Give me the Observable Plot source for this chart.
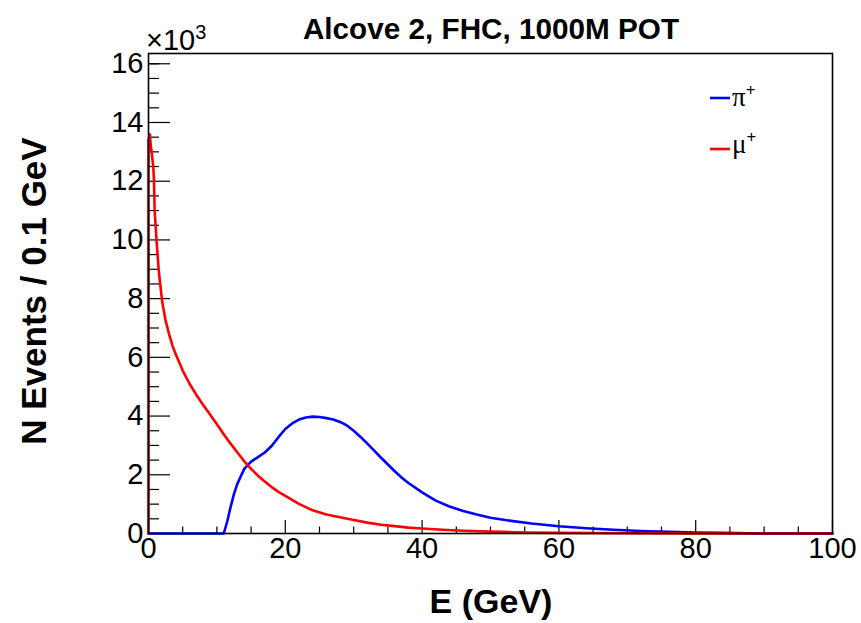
<!DOCTYPE html>
<html>
<head>
<meta charset="utf-8">
<script src="https://cdn.jsdelivr.net/npm/d3@7"></script>
<script src="https://cdn.jsdelivr.net/npm/@observablehq/plot@0.6"></script>
<style>
  html, body { margin: 0; padding: 0; background: white; }
  #chart { width: 861px; height: 623px; }
</style>
</head>
<body>
<div id="chart"></div>
<script>
// ---- Data (energy in GeV, events per 0.1 GeV bin) ----
const titleText = "Alcove 2, FHC, 1000M POT";
const xLabel = "E (GeV)";
const yLabel = "N Events / 0.1 GeV";
const seriesNames = ["π", "μ"];
const seriesColors = ["#0000ff", "#ff0000"];

const piE = [0, 11, 11.5, 12, 12.5, 13, 13.5, 14, 15, 16, 17, 18, 19, 20, 21, 22, 23, 24, 25, 26, 27, 28, 29, 30, 31, 32, 33, 34, 35, 36, 37, 38, 40, 42, 44, 46, 48, 50, 53, 56, 60, 64, 68, 72, 76, 80, 84, 88, 89, 100];
const piN = [0, 0, 400, 900, 1350, 1700, 1950, 2200, 2450, 2600, 2760, 2980, 3280, 3560, 3750, 3880, 3950, 3980, 3970, 3930, 3880, 3800, 3680, 3500, 3290, 3060, 2820, 2580, 2350, 2120, 1910, 1720, 1400, 1120, 920, 770, 645, 535, 430, 340, 245, 180, 130, 85, 55, 35, 20, 8, 0, 0];

const muE = [0, 0, 0.2, 0.3, 0.5, 0.7, 0.8, 0.9, 1.2, 1.5, 2.0, 2.5, 3.0, 3.5, 4.0, 5, 6, 7, 8, 9, 10, 11, 12, 13, 14, 15, 16, 17, 18, 19, 20, 22, 24, 26, 28, 30, 32, 34, 36, 38, 40, 43, 46, 50, 55, 60, 70, 80, 90, 100];
const muN = [0, 13400, 13600, 13300, 12900, 12500, 12000, 11000, 9900, 8950, 7900, 7250, 6800, 6400, 6100, 5550, 5100, 4720, 4380, 4050, 3720, 3380, 3060, 2760, 2460, 2200, 1970, 1770, 1580, 1420, 1280, 1010, 790, 650, 550, 460, 370, 300, 250, 200, 170, 130, 95, 65, 35, 20, 8, 3, 1, 0];

const xMajor = [0, 20, 40, 60, 80, 100];
const xMinor = [5, 10, 15, 25, 30, 35, 45, 50, 55, 65, 70, 75, 85, 90, 95];
const yMajor = [0, 2000, 4000, 6000, 8000, 10000, 12000, 14000, 16000];
const yMinor = [500, 1000, 1500, 2500, 3000, 3500, 4500, 5000, 5500, 6500, 7000, 7500, 8500, 9000, 9500, 10500, 11000, 11500, 12500, 13000, 13500, 14500, 15000, 15500, 16000];

const pi = piE.map((e, i) => ({E: e, N: piN[i]}));
const mu = muE.map((e, i) => ({E: e, N: muN[i]}));

const W = 861, H = 623;
const mL = 148, mR = 29, mT = 53, mB = 90;

const plot = Plot.plot({
  width: W, height: H,
  marginLeft: mL, marginRight: mR, marginTop: mT, marginBottom: mB,
  style: {fontFamily: "'Liberation Sans', Arial, sans-serif", fontSize: "29px", color: "black", background: "white"},
  x: {domain: [0, 100]},
  y: {domain: [0, 16350]},
  marks: [
    Plot.axisX({ticks: xMinor, tickSize: -6.5, tickFormat: () => "", label: null, strokeWidth: 1.2}),
    Plot.axisX({ticks: xMajor, tickSize: -13, tickFormat: () => "", label: null, strokeWidth: 1.2}),
    Plot.axisX({ticks: xMajor, tickSize: 0, tickPadding: 4, fontSize: 29, tickFormat: d => String(d), label: null}),
    Plot.axisY({ticks: yMinor, tickSize: -11, tickFormat: () => "", label: null, strokeWidth: 1.2}),
    Plot.axisY({ticks: yMajor, tickSize: -22, tickFormat: () => "", label: null, strokeWidth: 1.2}),
    Plot.axisY({ticks: yMajor, tickSize: 0, tickPadding: 5, fontSize: 29, tickFormat: d => String(d / 1000), label: null}),
    Plot.line(pi, {x: "E", y: "N", stroke: seriesColors[0], strokeWidth: 2.6}),
    Plot.line(mu, {x: "E", y: "N", stroke: seriesColors[1], strokeWidth: 2.6}),
    Plot.frame({stroke: "black", strokeWidth: 1.6})
  ]
});

document.getElementById("chart").appendChild(plot);

const svg = d3.select(plot);
const sans = "'Liberation Sans', Arial, sans-serif";
const serif = "'Liberation Serif', 'Times New Roman', serif";

// Title
svg.append("text")
  .attr("x", (mL + (W - mR)) / 2 + 1).attr("y", 39)
  .attr("text-anchor", "middle")
  .attr("font-family", sans).attr("font-weight", "bold").attr("font-size", 29.7)
  .attr("fill", "black").text(titleText);

// Exponent
const ex = svg.append("text")
  .attr("x", 146).attr("y", 50)
  .attr("text-anchor", "start")
  .attr("font-family", sans).attr("font-size", 29).attr("fill", "black");
ex.append("tspan").text("×10");
ex.append("tspan").attr("font-size", 20).attr("dy", -11).text("3");

// X label
svg.append("text")
  .attr("x", (mL + (W - mR)) / 2 + 1).attr("y", 613)
  .attr("text-anchor", "middle")
  .attr("font-family", sans).attr("font-weight", "bold").attr("font-size", 34)
  .attr("fill", "black").text(xLabel);

// Y label
svg.append("text")
  .attr("transform", `translate(46, ${(mT + (H - mB)) / 2 - 2}) rotate(-90)`)
  .attr("text-anchor", "middle")
  .attr("font-family", sans).attr("font-weight", "bold").attr("font-size", 35)
  .attr("fill", "black").text(yLabel);

// Legend
const legendY = [98, 149];
seriesNames.forEach((name, i) => {
  svg.append("line")
    .attr("x1", 710).attr("x2", 730)
    .attr("y1", legendY[i]).attr("y2", legendY[i])
    .attr("stroke", seriesColors[i]).attr("stroke-width", 2.6);
  const t = svg.append("text")
    .attr("x", 732).attr("y", legendY[i] + (i === 0 ? 8 : 4))
    .attr("text-anchor", "start")
    .attr("font-family", serif).attr("font-size", 27).attr("fill", "black");
  t.append("tspan").text(name);
  t.append("tspan").attr("font-size", 17).attr("font-weight", "bold").attr("dy", -10).text("+");
});
</script>
</body>
</html>
